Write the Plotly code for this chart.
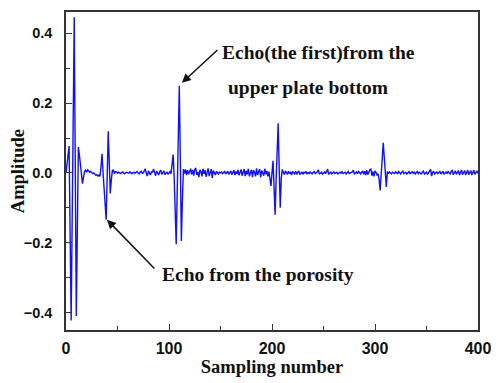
import plotly.graph_objects as go

# Ultrasonic A-scan: amplitude at each sampling number 0..400
amplitude = [
    0.000, 0.030, 0.060, 0.077, -0.175, -0.423, -0.133, 0.157, 0.446, 0.018,
    -0.410, -0.168, 0.074, 0.052, 0.028, 0.000, -0.031, -0.012, 0.004, 0.008,
    0.002, 0.009, 0.006, 0.002, 0.004, 0.001, -0.002, 0.000, -0.004, -0.007,
    -0.005, -0.009, -0.006, -0.010, 0.018, 0.055, 0.000, -0.045, -0.090, -0.134,
    -0.008, 0.119, 0.030, -0.059, -0.020, 0.006, 0.009, -0.002, 0.004, 0.003,
    -0.001, 0.002, 0.000, -0.002, 0.001, 0.003, -0.001, -0.002, 0.001, 0.002,
    0.000, -0.001, 0.003, 0.001, -0.002, 0.000, 0.002, -0.001, 0.001, 0.004,
    0.000, -0.003, 0.002, 0.005, -0.001, 0.000, 0.006, 0.012, -0.002, -0.009,
    0.006, 0.000, -0.006, 0.003, 0.002, 0.011, 0.001, -0.008, 0.005, 0.000,
    -0.006, 0.004, 0.008, -0.004, 0.002, 0.006, -0.005, 0.001, 0.003, -0.004,
    0.001, 0.004, -0.002, 0.025, 0.053, -0.010, -0.090, -0.204, -0.050, 0.100,
    0.250, 0.040, -0.195, -0.080, 0.011, -0.002, 0.010, -0.006, 0.008, -0.004,
    0.006, 0.012, -0.004, 0.009, -0.008, 0.010, 0.014, -0.006, 0.003, -0.012,
    0.009, 0.004, -0.010, 0.012, -0.003, 0.008, -0.011, 0.006, 0.013, -0.009,
    0.002, 0.011, -0.014, 0.007, 0.001, -0.006, 0.004, 0.000, -0.003, 0.002,
    0.000, 0.003, -0.002, 0.001, 0.004, -0.003, 0.002, 0.005, -0.004, 0.002,
    0.006, -0.005, 0.003, 0.008, -0.006, 0.004, -0.003, 0.009, -0.007, 0.002,
    0.010, -0.008, 0.004, 0.011, -0.009, 0.006, -0.004, 0.012, -0.010, 0.005,
    0.009, -0.012, 0.008, 0.002, -0.010, 0.013, -0.006, 0.003, 0.011, -0.013,
    0.007, 0.000, -0.008, 0.012, -0.004, 0.006, -0.010, 0.004, -0.012, -0.037,
    0.000, 0.035, -0.040, -0.120, -0.020, 0.060, 0.142, 0.010, -0.100, -0.015,
    0.010, 0.002, -0.005, 0.006, 0.000, -0.004, 0.005, -0.002, 0.003, -0.006,
    0.004, 0.001, -0.003, 0.005, -0.004, 0.002, 0.006, -0.005, 0.001, 0.003,
    -0.004, 0.002, 0.000, 0.004, -0.003, 0.001, -0.002, 0.003, 0.000, -0.003,
    0.002, 0.004, -0.002, 0.000, 0.003, 0.009, -0.003, -0.001, 0.002, -0.004,
    0.001, 0.003, -0.002, 0.004, 0.011, -0.004, 0.001, 0.002, -0.003, 0.000,
    0.003, -0.002, 0.001, 0.002, -0.003, 0.000, 0.002, -0.001, 0.003, -0.002,
    0.000, 0.002, -0.003, 0.001, 0.004, -0.002, 0.000, 0.002, 0.003, 0.008,
    -0.004, 0.000, 0.003, -0.002, 0.004, 0.001, -0.003, 0.002, 0.006, -0.004,
    0.005, -0.006, 0.008, -0.005, 0.003, 0.009, 0.011, -0.008, 0.004, -0.010,
    0.006, 0.002, -0.006, -0.003, -0.018, -0.050, -0.005, 0.040, 0.086, 0.045,
    0.000, -0.040, 0.004, -0.002, 0.003, 0.001, -0.003, 0.002, 0.000, -0.002,
    0.003, 0.001, -0.002, 0.004, 0.000, -0.003, 0.002, 0.005, -0.002, 0.000,
    0.002, -0.003, 0.001, 0.004, -0.002, 0.000, 0.003, -0.001, 0.002, -0.003,
    0.001, 0.004, -0.002, 0.002, 0.000, -0.004, 0.003, 0.005, -0.003, 0.001,
    0.002, -0.004, 0.003, 0.006, 0.010, -0.009, 0.002, 0.004, -0.003, 0.001,
    0.003, -0.002, 0.000, 0.004, -0.003, 0.002, 0.005, -0.004, 0.001, 0.003,
    -0.002, 0.004, 0.000, -0.003, 0.005, 0.007, -0.005, 0.002, 0.006, -0.004,
    0.003, 0.007, -0.006, 0.004, 0.008, -0.005, 0.002, 0.007, -0.006, 0.004,
    0.008, -0.005, 0.003, 0.007, -0.006, 0.005, 0.008, -0.004, 0.003, 0.006,
    -0.002,
]
sampling = list(range(len(amplitude)))

x_ticks = [0, 100, 200, 300, 400]
y_ticks = [-0.4, -0.2, 0.0, 0.2, 0.4]

serif = "Times New Roman, Liberation Serif, serif"
sans = "Arial, Liberation Sans, sans-serif"

fig = go.Figure(
    go.Scatter(
        x=sampling, y=amplitude, mode="lines",
        line=dict(color="#1010FF", width=1.4),
        hoverinfo="skip",
    )
)

axis_common = dict(
    showline=True, linecolor="#333333", linewidth=1.5, mirror=True,
    ticks="inside", ticklen=6, tickwidth=1.2, tickcolor="#333333",
    showgrid=False, zeroline=False,
)

fig.update_xaxes(
    **axis_common,
    range=[0, 400], tickvals=x_ticks,
    minor=dict(ticks="inside", ticklen=4, tickwidth=1.2, tickcolor="#333333", dtick=50),
    tickfont=dict(family=sans, size=16, color="#111111", weight="bold"),
    ticklabelstandoff=3, ticklabeloverflow="allow",
    title=dict(text="Sampling number", standoff=3,
               font=dict(family=serif, size=18.5, color="#111111", weight="bold")),
)
fig.update_yaxes(
    **axis_common,
    range=[-0.45, 0.461], tickvals=y_ticks, tickformat=".1f",
    minor=dict(ticks="inside", ticklen=4, tickwidth=1.2, tickcolor="#333333", dtick=0.1),
    tickfont=dict(family=sans, size=14.5, color="#111111", weight="bold"),
    ticklabelstandoff=9,
)

label_font = dict(family=serif, size=19.5, color="#111111", weight="bold")
arrow_style = dict(showarrow=True, arrowhead=2, arrowsize=1.2, arrowwidth=1.5,
                   arrowcolor="#111111", axref="x", ayref="y", text="")

fig.update_layout(
    width=501, height=383,
    margin=dict(l=66, r=13, t=10, b=48),
    paper_bgcolor="white", plot_bgcolor="white",
    showlegend=False,
    annotations=[
        # y-axis title, set as a rotated paper-positioned label
        dict(x=-0.116, y=0.5, xref="paper", yref="paper", text="Amplitude",
             textangle=-90, showarrow=False, xanchor="center", yanchor="middle",
             font=dict(family=serif, size=18.5, color="#111111", weight="bold")),
        dict(x=112.5, y=0.258, ax=148.5, ay=0.356, **arrow_style),
        dict(x=39.8, y=-0.134, ax=87.2, ay=-0.278, **arrow_style),
        dict(x=149.5, y=0.344, text="Echo(the first)from the", showarrow=False,
             xanchor="left", yanchor="middle", font=label_font),
        dict(x=155.0, y=0.246, text="upper plate bottom", showarrow=False,
             xanchor="left", yanchor="middle", font=label_font),
        dict(x=91.5, y=-0.290, text="Echo from the porosity", showarrow=False,
             xanchor="left", yanchor="middle", font=label_font),
    ],
)

fig.write_html("out.html")
